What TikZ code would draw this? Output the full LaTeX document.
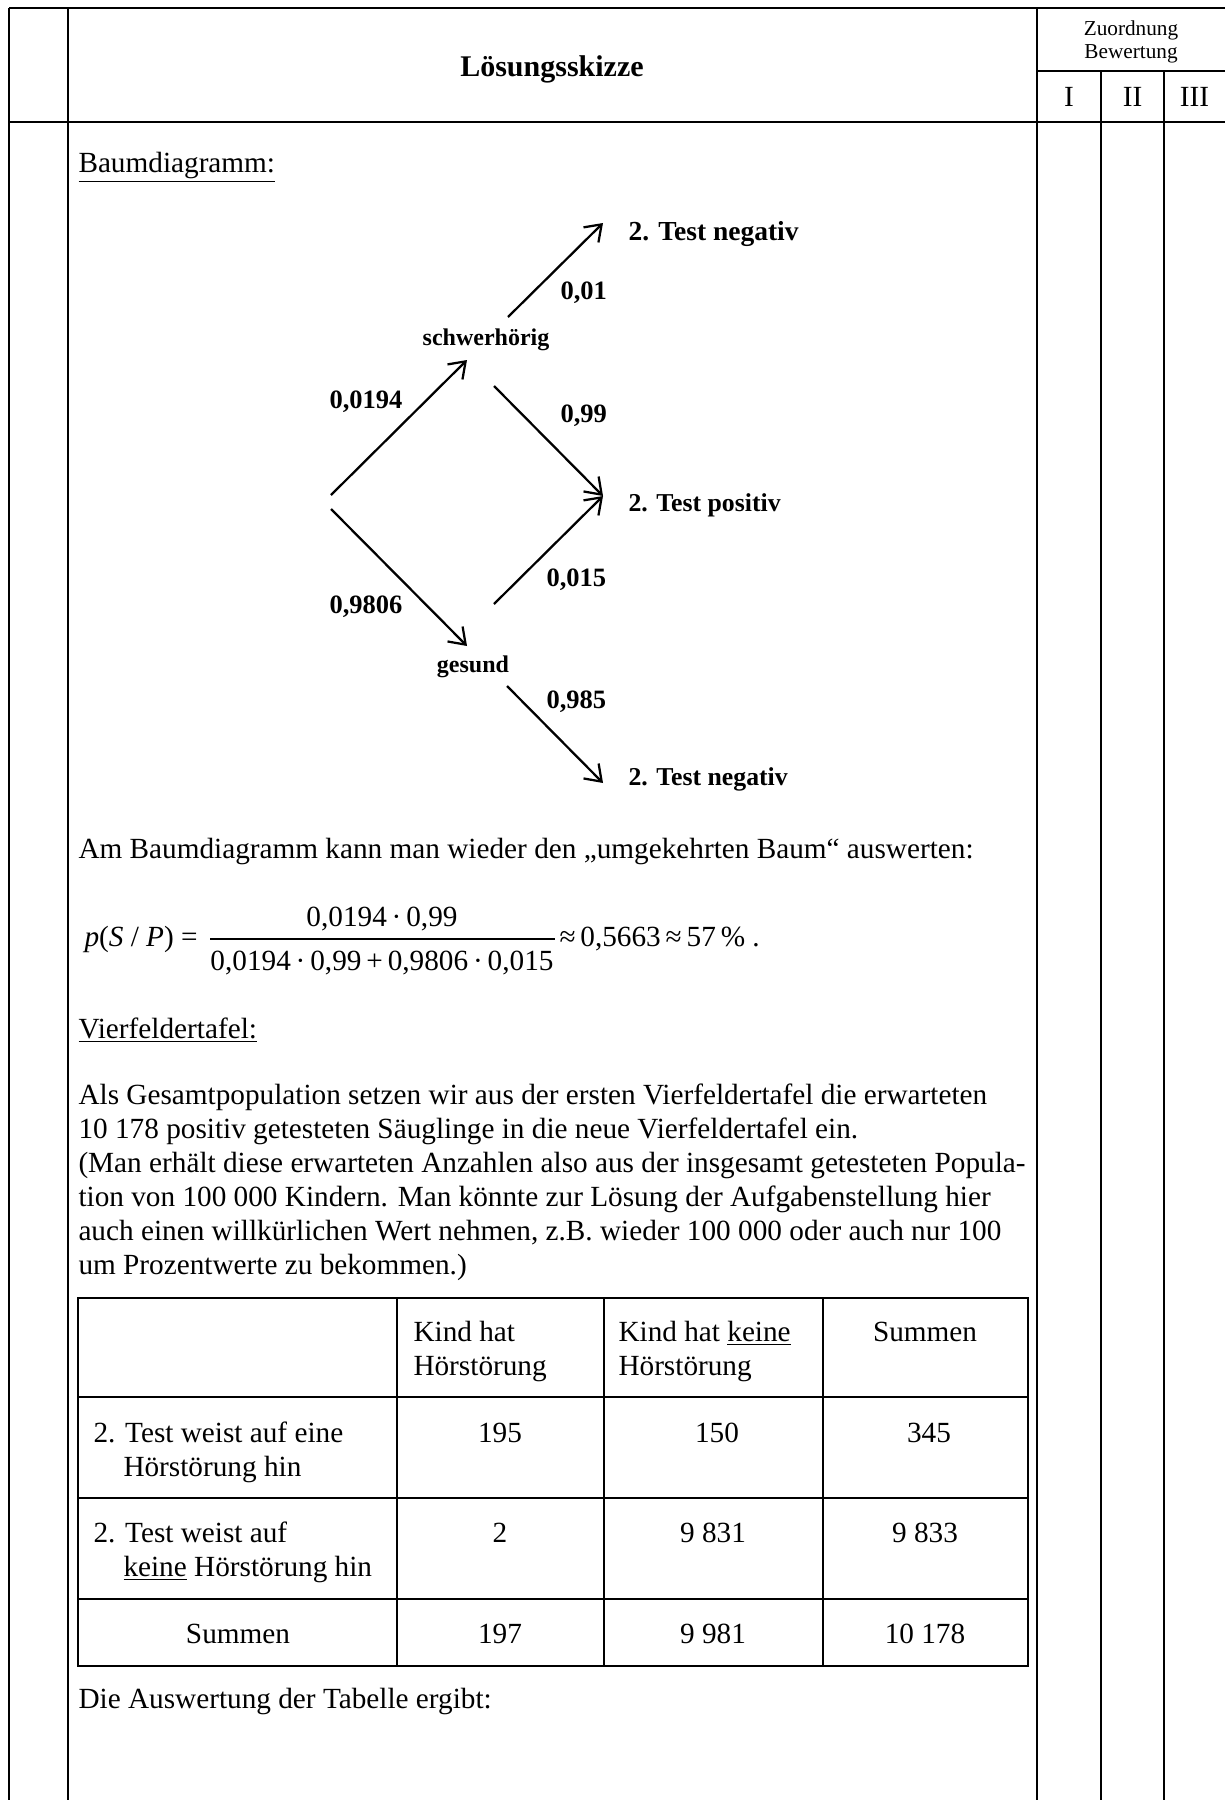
\documentclass[tikz,border=0pt]{standalone}
\usepackage{fontspec}
\setmainfont{Liberation Serif}
\usetikzlibrary{arrows.meta}
\tikzset{
  txt/.style={anchor=base west, inner sep=0pt, font=\fontsize{11.7}{13.6}\selectfont},
  ctxt/.style={anchor=base, inner sep=0pt, font=\fontsize{11.7}{13.6}\selectfont},
  frameline/.style={line width=0.65pt},
  tinner/.style={line width=0.5pt},
  touter/.style={line width=1pt},
  branch/.style={line width=0.9pt, -{Straight Barb[length=6pt,width=8.5pt]}},
  plab/.style={anchor=base west, inner sep=0pt, font=\fontsize{10.6}{12}\selectfont\bfseries},
  nlab/.style={anchor=base, inner sep=0pt, font=\fontsize{9.6}{11}\selectfont\bfseries},
  tlab/.style={anchor=base west, inner sep=0pt, font=\fontsize{10.3}{12}\selectfont\bfseries},
}
\begin{document}
\begin{tikzpicture}[x=0.4pt,y=-0.4pt]
\useasboundingbox (0,0) rectangle (1225,1800);
\fill[white] (0,0) rectangle (1225,1800);

% ---------- frame ----------
\draw[frameline] (9,8) -- (1225,8);
\draw[frameline] (9,122) -- (1225,122);
\draw[frameline] (1037,71) -- (1225,71);
\draw[frameline] (9,8) -- (9,1800);
\draw[frameline] (68,8) -- (68,1800);
\draw[frameline] (1037,8) -- (1037,1800);
\draw[frameline] (1101,71) -- (1101,1800);
\draw[frameline] (1164,71) -- (1164,1800);

\node[ctxt, font=\fontsize{12}{13.6}\selectfont\bfseries] (title) at (552,76) {Lösungsskizze};
\node[ctxt, font=\fontsize{8.5}{10}\selectfont] (zu) at (1131,35) {Zuordnung};
\node[ctxt, font=\fontsize{8.5}{10}\selectfont] (bew) at (1131,58) {Bewertung};
\node[ctxt] (c1) at (1069,106) {I};
\node[ctxt] (c2) at (1132.5,106) {II};
\node[ctxt] (c3) at (1194.5,106) {III};

% ---------- tree ----------
\node[txt] (bd) at (78,172) {\underline{Baumdiagramm:}};

\node[nlab] (sch) at (486,345) {schwerhörig};
\node[nlab] (ges) at (473,672) {gesund};
\node[tlab, font=\fontsize{11}{12}\selectfont\bfseries] (t1) at (628,240) {2. Test negativ};
\node[tlab] (t2) at (628,511) {2. Test positiv};
\node[tlab] (t3) at (628,785) {2. Test negativ};

\coordinate (r1) at (331,495);
\coordinate (r2) at (331,509);
\coordinate (s1) at (467,360);
\coordinate (g1) at (467,646);
\coordinate (s2) at (508,317);
\coordinate (s3) at (494,386);
\coordinate (g2) at (494,604);
\coordinate (g3) at (507,686);
\coordinate (e1) at (603,223);
\coordinate (e2) at (603,496);
\coordinate (e3) at (603,783);

\draw[branch] (r1) -- (s1);
\draw[branch] (r2) -- (g1);
\draw[branch] (s2) -- (e1);
\draw[branch] (s3) -- (e2);
\draw[branch] (g2) -- (e2);
\draw[branch] (g3) -- (e3);

\node[plab] (p1) at (329,408) {0,0194};
\node[plab] (p2) at (329,613) {0,9806};
\node[plab] (p3) at (560,299) {0,01};
\node[plab] (p4) at (560,422) {0,99};
\node[plab] (p5) at (546,586) {0,015};
\node[plab] (p6) at (546,708) {0,985};

% ---------- formula ----------
\node[txt] (am) at (78,858) {Am Baumdiagramm kann man wieder den „umgekehrten Baum“ auswerten:};
\node[txt] (lhs) at (84,946) {\textit{p}(\textit{S} / \textit{P})\ =};
\node[ctxt] (num) at (382,926) {0,0194\,·\,0,99};
\node[ctxt] (den) at (382,970) {0,0194\,·\,0,99\,+\,0,9806\,·\,0,015};
\coordinate (fb1) at (210,939);
\coordinate (fb2) at (555,939);
\draw[line width=0.5pt] (fb1) -- (fb2);
\node[txt] (rhs) at (559,946) {≈\,0,5663\,≈\,57\,\% .};

% ---------- Vierfeldertafel text ----------
\node[txt] (vf) at (78,1038) {\underline{Vierfeldertafel:}};
\node[txt] (l1) at (78,1104) {Als Gesamtpopulation setzen wir aus der ersten Vierfeldertafel die erwarteten};
\node[txt] (l2) at (78,1138) {10 178 positiv getesteten Säuglinge in die neue Vierfeldertafel ein.};
\node[txt] (l3) at (78,1172) {(Man erhält diese erwarteten Anzahlen also aus der insgesamt getesteten Popula-};
\node[txt] (l4) at (78,1206) {tion von 100 000 Kindern. Man könnte zur Lösung der Aufgabenstellung hier};
\node[txt] (l5) at (78,1240) {auch einen willkürlichen Wert nehmen, z.B. wieder 100 000 oder auch nur 100};
\node[txt] (l6) at (78,1274) {um Prozentwerte zu bekommen.)};

% ---------- table ----------
\draw[tinner] (397,1298) -- (397,1666);
\draw[tinner] (604,1298) -- (604,1666);
\draw[tinner] (823,1298) -- (823,1666);
\draw[tinner] (78,1397) -- (1028,1397);
\draw[tinner] (78,1498) -- (1028,1498);
\draw[tinner] (78,1599) -- (1028,1599);
\draw[touter] (78,1298) rectangle (1028,1666);

\node[txt] (h1a) at (413,1341) {Kind hat};
\node[txt] (h1b) at (413,1375) {Hörstörung};
\node[txt] (h2a) at (618,1341) {Kind hat \underline{keine}};
\node[txt] (h2b) at (618,1375) {Hörstörung};
\node[ctxt] (h3) at (925,1341) {Summen};

\node[txt] (r1a) at (93,1442) {2. Test weist auf eine};
\node[txt] (r1b) at (123,1476) {Hörstörung hin};
\node[ctxt] (v11) at (500,1442) {195};
\node[ctxt] (v12) at (717,1442) {150};
\node[ctxt] (v13) at (929,1442) {345};

\node[txt] (r2a) at (93,1542) {2. Test weist auf};
\node[txt] (r2b) at (123,1576) {\underline{keine} Hörstörung hin};
\node[ctxt] (v21) at (500,1542) {2};
\node[ctxt] (v22) at (713,1542) {9 831};
\node[ctxt] (v23) at (925,1542) {9 833};

\node[ctxt] (r3a) at (238,1643) {Summen};
\node[ctxt] (v31) at (500,1643) {197};
\node[ctxt] (v32) at (713,1643) {9 981};
\node[ctxt] (v33) at (925,1643) {10 178};

\node[txt] (die) at (78,1708) {Die Auswertung der Tabelle ergibt:};
\end{tikzpicture}
\end{document}
